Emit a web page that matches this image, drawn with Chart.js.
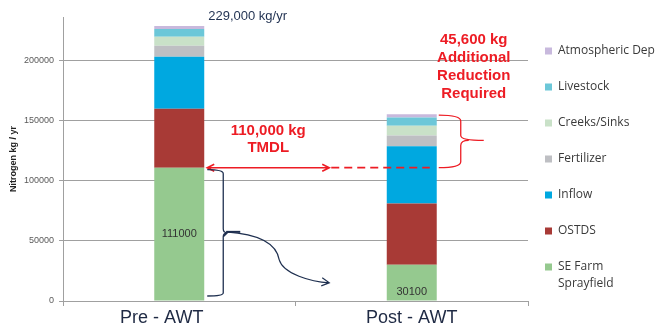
<!DOCTYPE html>
<html>
<head>
<meta charset="utf-8">
<script src="https://cdn.jsdelivr.net/npm/chart.js@4/dist/chart.umd.min.js"></script>
<style>
html,body{margin:0;padding:0;background:#fff;}
#wrap{width:658px;height:332px;position:relative;}
</style>
</head>
<body>
<div id="wrap"><canvas id="c" width="658" height="332"></canvas></div>
<script>
// ---- data ----
const categories = ['Pre - AWT', 'Post - AWT'];
const seriesNames = ['SE Farm Sprayfield', 'OSTDS', 'Inflow', 'Fertilizer', 'Creeks/Sinks', 'Livestock', 'Atmospheric Dep'];
const seFarm     = [111000, 30100];
const ostds      = [49000, 51000];
const inflow     = [43500, 47800];
const fertilizer = [9000, 9000];
const creeks     = [7500, 8000];
const livestock  = [6500, 7000];
const atmos      = [2500, 2700];
const yTicks = [0, 50000, 100000, 150000, 200000];
const tmdlValue = 110000;
const totalLabel = '229,000 kg/yr';
const tmdlText = ['110,000 kg', 'TMDL'];
const reductionText = ['45,600 kg', 'Additional', 'Reduction', 'Required'];

const colors = ['#95C98F', '#A83A36', '#00A8E0', '#BEBFC3', '#C9E1C8', '#6CC7D8', '#C8B9DD'];
const seriesValues = [seFarm, ostds, inflow, fertilizer, creeks, livestock, atmos];
const RED = '#ED1C24';
const NAVY = '#1F3050';

const totals = categories.map((_, i) => seriesValues.reduce((s, a) => s + a[i], 0));

const annotPlugin = {
  id: 'annot',
  afterDatasetsDraw(chart) {
    const ctx = chart.ctx;
    const ys = chart.scales.y;
    const m = chart.getDatasetMeta(0);
    const pre = m.data[0], post = m.data[1];
    const preR = pre.x + pre.width / 2;
    const postL = post.x - post.width / 2, postR = post.x + post.width / 2;
    const yT = ys.getPixelForValue(seFarm[0]);
    const y0 = ys.getPixelForValue(0);
    ctx.save();

    // data labels inside green bars
    ctx.font = '11px "Liberation Sans", Arial, sans-serif';
    ctx.fillStyle = '#333';
    ctx.textAlign = 'center';
    ctx.textBaseline = 'middle';
    m.data.forEach((b, i) => {
      ctx.fillText(String(seFarm[i]), b.x, (b.y + b.base) / 2 + (i === 1 ? 9 : 0));
    });

    // total label
    ctx.font = '13px "Liberation Sans", Arial, sans-serif';
    ctx.fillStyle = NAVY;
    ctx.textAlign = 'left';
    ctx.fillText(totalLabel, preR + 4, ys.getPixelForValue(totals[0]) - 10);

    // red double arrow
    const ax0 = preR + 3, ax1 = preR + 125;
    ctx.strokeStyle = RED;
    ctx.lineWidth = 1.6;
    ctx.beginPath();
    ctx.moveTo(ax0, yT); ctx.lineTo(ax1, yT);
    ctx.moveTo(ax0 + 7, yT - 3.5); ctx.lineTo(ax0, yT); ctx.lineTo(ax0 + 7, yT + 3.5);
    ctx.moveTo(ax1 - 7, yT - 3.5); ctx.lineTo(ax1, yT); ctx.lineTo(ax1 - 7, yT + 3.5);
    ctx.stroke();
    ctx.setLineDash([8, 5]);
    ctx.lineWidth = 1.8;
    ctx.beginPath();
    ctx.moveTo(ax1 + 2, yT); ctx.lineTo(postL + 43, yT);
    ctx.stroke();
    ctx.setLineDash([]);

    // TMDL text
    ctx.fillStyle = RED;
    ctx.font = 'bold 15px "Liberation Sans", Arial, sans-serif';
    ctx.textAlign = 'center';
    const tx = (ax0 + ax1) / 2;
    ctx.fillText(tmdlText[0], tx, yT - 37);
    ctx.fillText(tmdlText[1], tx, yT - 20);

    // red brace
    const bx = postR + 2, bTop = ys.getPixelForValue(totals[1]) + 1, bBot = yT;
    const bMid = (bTop + bBot) / 2 - 1;
    const bv = bx + 22, tip = bx + 45;
    ctx.lineWidth = 1.3;
    ctx.beginPath();
    ctx.moveTo(bx, bTop);
    ctx.quadraticCurveTo(bv, bTop, bv, bTop + 6);
    ctx.lineTo(bv, bMid - 5);
    ctx.quadraticCurveTo(bv, bMid, tip, bMid);
    ctx.moveTo(tip - 15, bMid);
    ctx.quadraticCurveTo(bv, bMid, bv, bMid + 5);
    ctx.lineTo(bv, bBot - 6);
    ctx.quadraticCurveTo(bv, bBot, bx, bBot);
    ctx.stroke();

    // reduction text
    const rx = postR + 37;
    reductionText.forEach((t, i) => ctx.fillText(t, rx, bTop - 75 + i * 18));

    // navy brace
    const nx = preR + 3, nTop = yT + 2, nBot = y0 - 5, nv = nx + 16;
    const nMid = (nTop + nBot) / 2;
    ctx.strokeStyle = NAVY;
    ctx.lineWidth = 1.3;
    ctx.beginPath();
    ctx.moveTo(nx, nTop);
    ctx.quadraticCurveTo(nv, nTop, nv, nTop + 4);
    ctx.lineTo(nv, nMid - 4);
    ctx.quadraticCurveTo(nv, nMid, nv + 4, nMid);
    ctx.moveTo(nv, nMid + 4);
    ctx.quadraticCurveTo(nv, nMid, nv + 4, nMid);
    ctx.lineTo(nv, nMid + 4);
    ctx.lineTo(nv, nBot - 3);
    ctx.quadraticCurveTo(nv, nBot, nx, nBot);
    ctx.stroke();

    // curved arrow
    const cx0 = nv + 3, cy0 = nMid - 1;
    const ex = preR + 125, ey = nMid + 50;
    ctx.lineWidth = 2;
    ctx.beginPath();
    ctx.moveTo(cx0, cy0); ctx.lineTo(cx0 + 14, cy0);
    ctx.stroke();
    ctx.lineWidth = 1.2;
    ctx.beginPath();
    ctx.moveTo(cx0, cy0);
    ctx.bezierCurveTo(cx0 + 30, cy0 + 2, cx0 + 50, cy0 + 10, cx0 + 53, cy0 + 28);
    ctx.bezierCurveTo(cx0 + 57, cy0 + 42, cx0 + 85, cy0 + 50, ex, ey);
    ctx.moveTo(ex - 7, ey - 5); ctx.lineTo(ex, ey); ctx.lineTo(ex - 8, ey + 3);
    ctx.stroke();

    ctx.restore();
  },
  afterDraw(chart) {
    // legend
    const ctx = chart.ctx;
    ctx.save();
    ctx.font = '12px "Open Sans", sans-serif';
    ctx.textAlign = 'left';
    ctx.textBaseline = 'middle';
    const order = seriesNames.map((n, i) => i).reverse();
    order.forEach((idx, k) => {
      const y = 51 + k * 36;
      ctx.fillStyle = colors[idx];
      ctx.fillRect(545, y - 3.5, 7, 7);
      ctx.fillStyle = '#3A3A3A';
      const name = seriesNames[idx];
      if (name === 'SE Farm Sprayfield') {
        ctx.fillText('SE Farm', 558, y);
        ctx.fillText('Sprayfield', 558, y + 17);
      } else {
        ctx.fillText(name, 558, y);
      }
    });
    ctx.restore();
  }
};

new Chart(document.getElementById('c'), {
  type: 'bar',
  data: {
    labels: categories,
    datasets: seriesNames.map((n, i) => ({
      label: n,
      data: seriesValues[i],
      backgroundColor: colors[i],
      borderWidth: 0,
      barPercentage: 0.215,
      categoryPercentage: 1
    }))
  },
  options: {
    responsive: false,
    animation: false,
    devicePixelRatio: 1,
    layout: { padding: { top: 17, right: 130, left: 0, bottom: 0 } },
    plugins: { legend: { display: false }, tooltip: { enabled: false } },
    scales: {
      x: {
        stacked: true,
        offset: true,
        grid: { display: true, drawOnChartArea: false, offset: true, tickLength: 5, color: '#A0A0A0' },
        border: { color: '#A0A0A0' },
        ticks: {
          font: { size: 18, family: '"Liberation Sans", Arial, sans-serif' },
          color: '#1F2A44',
          padding: 1,
          maxRotation: 0,
          callback: function (v, i) { return i === 0 ? categories[i] + '       ' : categories[i]; }
        },
        afterFit: s => { s.height = 31; }
      },
      y: {
        stacked: true,
        min: 0,
        max: 236500,
        afterBuildTicks: s => { s.ticks = yTicks.map(v => ({ value: v })); },
        ticks: {
          font: { size: 9, family: '"Liberation Sans", Arial, sans-serif' },
          color: '#595959',
          padding: 5,
          callback: v => String(v)
        },
        grid: { color: '#A0A0A0', tickLength: 4 },
        border: { color: '#A0A0A0' },
        title: {
          display: true,
          text: 'Nitrogen kg / yr',
          font: { size: 9, weight: 'bold', family: '"Liberation Sans", Arial, sans-serif' },
          color: '#222',
          padding: { top: 8, bottom: 0 }
        },
        afterFit: s => { s.width = 63; }
      }
    }
  },
  plugins: [annotPlugin]
});
</script>
</body>
</html>
